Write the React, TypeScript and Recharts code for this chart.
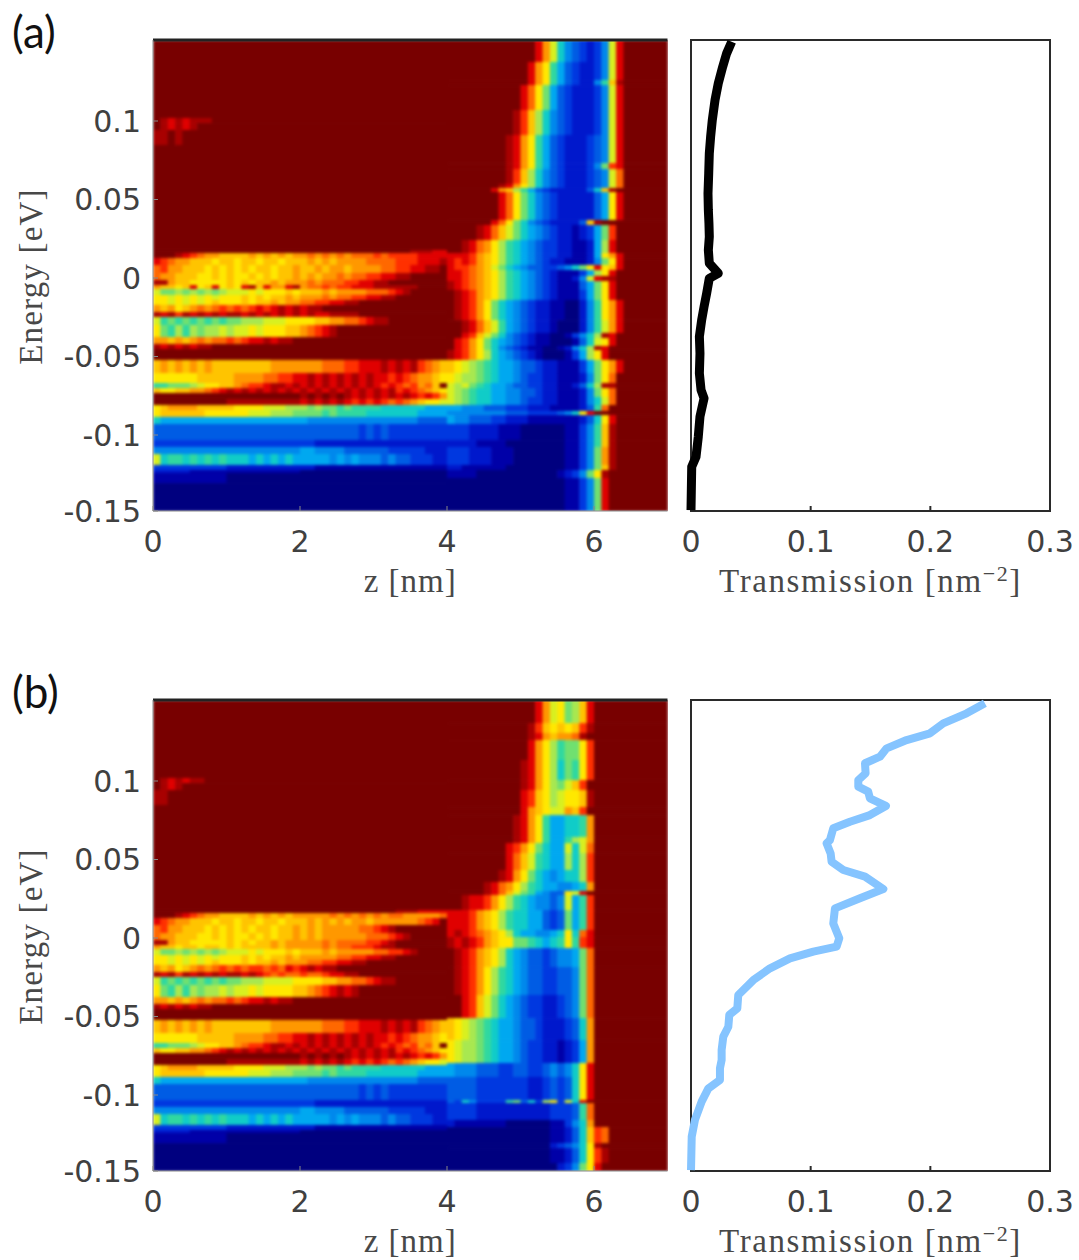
import React from 'react';
import { ScatterChart, Scatter, XAxis, YAxis, ReferenceArea, ReferenceLine, Label } from 'recharts';

// jet-like colour levels used in the band strings, a = navy ... t = dark red
const levels: Record<string, string> = {
  a: '#00007f', b: '#0000a8', c: '#0018cc', d: '#0038e0', e: '#005ce4', f: '#0088ec', g: '#00a8f0',
  h: '#10ccc8', i: '#30d8a0', j: '#70e070', k: '#a8e850', l: '#d8f020', m: '#ffe800', n: '#ffc400',
  o: '#ff9800', p: '#ff6800', q: '#ff3000', r: '#e00000', s: '#a80000', t: '#780000',
};

const zMax = 7;
const eMin = -0.1484;
const eMax = 0.1516;
const colsLeft = 40; // 0.1 nm columns, left part 0..4 nm
const colsRight = 30; // right part 4..7 nm

// [upper energy of the row, colour runs for columns 0-39]
const lowerLeft: [number, string][] = [
  [-0.0452, ''],
  [-0.0522, 'n o n o n o n o n8 o7 p3 q2 r3 s r s r s q p o n'],
  [-0.0605, 'm6 n5 o4 p2 q2 r2 s r s r s r s r s r r q r q p o o n m'],
  [-0.0669, 'i2 j3 k l m2 n2 o p q2 r s2 r s r s r s r s r s r s r q r q p q o p n'],
  [-0.0701, 'n m2 n2 o2 p q r s r s r s r s r s r s r s r s r s r s r s r s q r q p o n m'],
  [-0.0732, 't20 s t s t s t s r s r s r s r s r q r q o n'],
  [-0.0771, 't10 s10 r s r s r s r q r q r q p q p o n m m l'],
  [-0.0809, 'm n o4 n5 m4 l3 k3 j k j j i j i4 h6 g3'],
  [-0.0841, 'm n6 m6 l3 k3 j4 i j i4 h7 g4'],
  [-0.0885, 'h g20 f15 e4'],
  [-0.093, 'e28 d e d e d8'],
  [-0.1032, 'd22 c18'],
  [-0.1076, 'f20 g2 f4 e6 d5 c3'],
  [-0.1121, 'l h i2 h i h i h i h2 h g h g h g h g5 f g f g f3 e f e2 d3 c c'],
  [-0.1191, 'd10 c12 b18'],
  [-0.1223, 'c5 b15 a20'],
  [-0.1242, 'b10 a30'],
  [-0.1306, 'a40'],
];

const upperLeftA: [number, string][] = [
  [0.1516, ''],
  [0.1019, 't s r s r s3'],
  [0.0987, 't s r s r s'],
  [0.0943, 's2 t s'],
  [0.0847, ''],
  [0.0178, 't35 s3 r2'],
  [0.0159, 't3 s r q p o2 n4 o n o n o n o2 p o p o p o p3 q p q4 r4'],
  [0.0127, 'r q p o2 n3 m n2 m n2 m n2 m n3 o n o n o4 p4 q3 r3 s'],
  [0.0083, 'p q o2 n3 m n m n m n m n2 m n2 o n2 o n o2 n o4 p2 q2 r2 s2 t'],
  [0.0032, 'p o2 n3 m2 n m n m2 n m n m n2 o n o n o2 p o p2 q2 r2 s2 t5'],
  [-0.0013, 's2 o n2 m5 n m n m n2 o n o3 p o p3 q2 r2 s2'],
  [-0.0045, 'o n2 m n r m n r m n m r s n r o2 r s o p2 q p q2 r3 s6'],
  [-0.007, 'l j2 k j k j k j k l3 m l m3 n m n3 o n o4 p3 q r s'],
  [-0.0108, 'm2 l m l m l m l m3 n m n m n2 o n o3 p o p2 q2 r2 s2'],
  [-0.014, 'm2 l m l m l m n m3 n m n n o n o2 p2 q2 r2 s2'],
  [-0.0172, 'o n o m n o p o p q p q p q r q r s r s r s s'],
  [-0.0217, 's r s q s r s r s r s2 r s r s r s r s r s r2 s4'],
  [-0.0248, 'l i j i j i j i j i j2 k3 l3 m4 n2 o2 p2 q r s2'],
  [-0.0299, 'm j i k i k j k2 l k l2 m l m3 n2 o p q r s'],
  [-0.0376, 'o2 n o n o p o p2 q p q r2 s r s2'],
  [-0.042, 's r s r s r s2'],
];

const upperLeftB: [number, string][] = [
  [0.1516, ''],
  [0.1019, 't s r s r s2'],
  [0.0987, 't s r s'],
  [0.0943, 's2'],
  [0.0847, ''],
  [0.0178, 't33 s3 r4'],
  [0.0159, 't3 s r q p o2 n4 o n o n o n o5 p o p o p o p o p2 o5 p q r'],
  [0.0127, 'r q p o2 n3 m n2 m n2 m n2 m n3 o n o n o n o2 n o6 p q r'],
  [0.0083, 'p q o2 n3 m n m n m n m n2 m n2 o n o n o5 p2 q r s'],
  [0.0032, 'p o2 n3 m2 n m n m2 n m n m n2 o n o n o6 p3 q r s t2'],
  [-0.0013, 's2 o n2 m5 n m n m n2 o n o5 p o p4 q2 r s'],
  [-0.0045, 'o n2 m n2 m n2 m n m n4 o n o5 p o p2 q3 r s2'],
  [-0.007, 'l j2 k j k j k j k l3 m l m3 n m n3 o n o5 p2 q2 r s'],
  [-0.0108, 'm2 l m l m l m l m3 n m n m n2 o n o5 p2 q2 r2 s2'],
  [-0.014, 'm2 l m l m l m n m3 n m n n o n o3 p2 q2 r2 s2'],
  [-0.0172, 'o n o m n o p o p q p q p q q p q p r q r s r s s'],
  [-0.0217, 's r s q s r s r s r s2 r s r q p q p2 q p2 q r r s s'],
  [-0.0248, 'l i j i j i j i j i j2 k3 l4 m4 n2 o2 p2 q r s2'],
  [-0.0299, 'm j i k i k j k2 l k l2 m l m4 n2 o p q r s r s'],
  [-0.0376, 'o2 n o n o p o p2 q p q r2 s r s2'],
  [-0.042, 's r s r s r s2'],
];

// [upper energy of the row, colour runs for columns 40-69]
const tailA: [number, string][] = [
  [0.1516, 't12 r o l h f e d c d f l r'],
  [0.1376, 't11 r o m i g e d c2 d f l r'],
  [0.1261, 't11 r o m i g e d c2 f i n s'],
  [0.1229, 't10 r p m j g e d c3 d f l r'],
  [0.107, 't9 s q n k h f e d c3 d f l r'],
  [0.0911, 't8 s r o m i g e d c3 d e f l r'],
  [0.0732, 't8 s r o m i g e d c3 d f j q r'],
  [0.0694, 't8 s q n k h f e d c3 d e f l p'],
  [0.0599, 't7 s r o m k h f e d c3 d e f l p'],
  [0.0573, 't6 r o n k i g e d c4 c e h n s'],
  [0.0548, 't7 r p m j h f e d c4 c e g m r'],
  [0.0369, 't6 r p m j h f e d c3 c e n s'],
  [0.0338, 't4 s r p n l j h g f e d c2 b c d g j q'],
  [0.0242, 't2 s r p o m k i h g f e d2 c2 b2 c g k r'],
  [0.0159, 'r3 q o n m k i h g f e d2 c2 b2 c g m o r'],
  [0.0127, 'r q r q o n m k i h g f e d c2 b3 c f j m r'],
  [0.0083, 'r q2 p o n l j h g f e2 d2 e f h j m r m n r'],
  [0.0051, 'r2 q p o n m k i h g f e d c b3 d g k m r'],
  [0.0013, 'r2 q p o n m k i h g f e d c b2 c f l r s2'],
  [-0.0019, 's r q p o n m k i h g f e d c b3 e g j m r'],
  [-0.0076, 't s r q o n m k i h g f e d c b3 d g j m r'],
  [-0.014, 't s r q o m j h g f e d c2 b2 a2 c f i m o r'],
  [-0.0268, 't2 s r p n l i g f e d c2 b a3 c f i l o r'],
  [-0.035, 't2 r q n l j h f e d c b2 a2 b d f h k s r'],
  [-0.0382, 't r q o m j h g f e d c b2 a3 b e h l m r'],
  [-0.0433, 't r q o m j h f e d c b2 a2 b c f h k s r'],
  [-0.0459, 's r q o m k h g f e d c b a3 b d g k m r'],
  [-0.0522, 'n m l k j i h g2 f e2 d c2 b3 d g j m o r'],
  [-0.0605, 'm l k2 j i h g2 f e d2 c2 b3 c f j m p'],
  [-0.0669, 'l k l j i h g2 f e2 d2 c2 b2 c e h k s2'],
  [-0.0701, 'l k j i h2 g2 f2 e2 d c2 b3 c f j m p'],
  [-0.0758, 'l k j i h2 g2 f2 e d2 c2 b3 c f h l p'],
  [-0.0809, 'g2 f3 e3 d3 c3 b4 c e i p'],
  [-0.0847, 'f8 e3 d4 e f h m r'],
  [-0.0873, 'g f2 e3 d2 c3 b7 c e h m r'],
  [-0.093, 'd3 c4 b3 a6 b2 d f i n s'],
  [-0.1032, 'c4 b4 a8 b2 d f i n s'],
  [-0.1076, 'd3 c3 b3 a7 b2 d f j o s'],
  [-0.1191, 'c2 b6 a8 b2 d f j n s'],
  [-0.1223, 'b4 a11 b c d f j m s'],
  [-0.1274, 'a16 b2 d f j r'],
];

const tailB: [number, string][] = [
  [0.1516, 't12 r o l m j k n r'],
  [0.1369, 't11 s q n m n m n q s'],
  [0.1306, 't11 s r o n o2 p s'],
  [0.1261, 't11 r o m k i j2 m q'],
  [0.1134, 't10 s r o m k h j i m q'],
  [0.1006, 't10 s r o m k j l n q'],
  [0.0943, 't10 r q n m k l m2 n s'],
  [0.0834, 't10 r o n m l2 o n q'],
  [0.0783, 't9 s r o m i g2 h2 i o'],
  [0.0643, 't9 s r o m i g2 i k l o'],
  [0.0605, 't8 r q o m j h g2 l h l p'],
  [0.0541, 't8 r p n l i h g2 k h k q'],
  [0.0433, 't7 s r o m j h g f g h2 k q'],
  [0.0357, 't5 s r p o m k i h g2 f2 g h o'],
  [0.0299, 't5 s r p n l j i g f e2 m l r'],
  [0.0274, 't2 s r2 q o m k i h g f2 e f l g i q'],
  [0.0178, 'r3 q o n m k i h2 g2 e d e j g i q'],
  [0.0051, 'r s r q p o n m k h g2 f2 g h m h p r'],
  [0.0006, 's r s r q o n m2 j2 i h g h i m i q r'],
  [-0.0064, 't s r q o n m k h g f e2 d e f2 g j p'],
  [-0.0185, 't s r q o m k i h g f e2 d2 e2 f j p'],
  [-0.0363, 't2 r q n l j h g f e d2 c2 d e f j p'],
  [-0.051, 'n m l k j i h g2 f e2 d c3 d e h o'],
  [-0.065, 'm l k2 j i h g2 f e d2 c2 b c d g o'],
  [-0.0796, 'g f3 e3 d2 e2 d2 e f e f h m r'],
  [-0.0885, 'e4 d7 c2 d e d e h m r'],
  [-0.1032, 'e d h f d4 i j e h d k m d l h r'],
  [-0.1051, 'd4 c10 d3 e i p'],
  [-0.1159, 'c b7 a6 b2 d f h o'],
  [-0.1204, 'a14 b2 c e h n q p'],
  [-0.1306, 'a14 c d e f h m s'],
  [-0.1338, 'a14 b2 c e h m q s'],
  [-0.1433, 'a15 c d f j m r'],
];

// transmission curves
const transmissionA = [0.034, 0.0298, 0.0265, 0.0228, 0.0201, 0.0178, 0.0164, 0.0153, 0.0148, 0.0142, 0.0145, 0.015, 0.0153, 0.0145, 0.0153, 0.0228, 0.0153, 0.0131, 0.0109, 0.0089, 0.007, 0.0075, 0.007, 0.0084, 0.0109, 0.0075, 0.0061, 0.0042, 0.0006, 0];
const energyA = [0.1505, 0.1431, 0.1346, 0.124, 0.1134, 0.1006, 0.09, 0.0794, 0.0667, 0.0539, 0.0433, 0.0348, 0.0263, 0.0178, 0.0094, 0.003, -0.0002, -0.0097, -0.0183, -0.0268, -0.0374, -0.048, -0.0607, -0.0713, -0.0766, -0.0883, -0.1011, -0.1138, -0.1202, -0.1478];
const transmissionB = [0.2456, 0.2303, 0.2108, 0.1997, 0.1802, 0.1635, 0.1579, 0.1454, 0.1459, 0.1398, 0.1398, 0.1481, 0.1495, 0.1629, 0.1495, 0.1328, 0.1189, 0.1161, 0.1133, 0.1167, 0.1175, 0.1273, 0.1454, 0.1607, 0.1412, 0.1203, 0.1189, 0.1239, 0.1217, 0.1022, 0.0827, 0.066, 0.0521, 0.0395, 0.0387, 0.032, 0.0312, 0.027, 0.0256, 0.0256, 0.0242, 0.0242, 0.0145, 0.0089, 0.0033, 0.0006, 0];
const energyB = [0.1495, 0.1431, 0.1367, 0.1304, 0.1261, 0.1208, 0.1155, 0.1113, 0.1049, 0.1006, 0.0964, 0.0932, 0.089, 0.0841, 0.0783, 0.0741, 0.0699, 0.0624, 0.0603, 0.0539, 0.0486, 0.0433, 0.0391, 0.0312, 0.0253, 0.0189, 0.0093, -0.0002, -0.0055, -0.0087, -0.013, -0.0193, -0.0268, -0.0363, -0.0448, -0.049, -0.0565, -0.0628, -0.0713, -0.0777, -0.083, -0.0904, -0.0958, -0.1042, -0.1159, -0.1265, -0.1478];

const energyTicks = [-0.1484, -0.1, -0.05, 0, 0.05, 0.1];
const zTicks = [0, 2, 4, 6];
const transmissionTicks = [0, 0.1, 0.2, 0.3];
const heatCorners = [
  { z: 0, e: eMin },
  { z: zMax, e: eMax },
];

const plotHeight = 471;
const heatWidth = 514.5;
const tickStyle = { fontFamily: 'DejaVu Sans', fontSize: 30, fill: '#404040' };
const labelFont = { fontFamily: 'Liberation Serif', fontSize: 33, fill: '#484848' };

type Cell = { z: number; e: number; w: number; h: number; color: string };

function expand(runs: string, size: number) {
  let out = '';
  for (const m of runs.matchAll(/([a-t])(\d*)/g)) {
    out += m[1].repeat(m[2] ? Number(m[2]) : 1);
  }
  return out.padEnd(size, 't').slice(0, size);
}

function buildCells(rows: [number, string][], firstCol: number, size: number): Cell[] {
  const cells: Cell[] = [];
  rows.forEach(([top, runs], i) => {
    const bottom = i + 1 < rows.length ? rows[i + 1][0] : eMin;
    const line = expand(runs, size);
    let start = 0;
    for (let c = 1; c <= size; c++) {
      if (c === size || line[c] !== line[start]) {
        const w = (c - start) * 0.1;
        cells.push({
          z: (firstCol + start) * 0.1 + w / 2,
          e: (top + bottom) / 2,
          w,
          h: top - bottom,
          color: levels[line[start]],
        });
        start = c;
      }
    }
  });
  return cells;
}

const HeatCell = (props: any) => {
  const { cx, cy, payload } = props;
  const w = (payload.w * heatWidth) / zMax;
  const h = (payload.h * plotHeight) / (eMax - eMin);
  return <rect x={cx - w / 2} y={cy - h / 2} width={w + 0.6} height={h + 0.6} fill={payload.color} />;
};

const noPoint = () => <g />;

function bottomLabel(text: React.ReactNode, spacing: number) {
  return ({ viewBox }: any) => (
    <text x={viewBox.x + viewBox.width / 2} y={viewBox.y + 81} textAnchor="middle" letterSpacing={spacing} {...labelFont}>
      {text}
    </text>
  );
}

function HeatPanel({ top, rows }: { top: number; rows: Cell[] }) {
  return (
    <div style={{ position: 'absolute', left: 0, top, width: 680, height: 600 }}>
      {/* the colour map is a soft interpolated image in the original */}
      <div style={{ position: 'absolute', inset: 0, clipPath: 'inset(40px 12px 89px 153px)' }}>
        <div style={{ filter: 'blur(1.6px)' }}>
          <ScatterChart width={680} height={600} margin={{ top: 40, right: 12.5, bottom: 89, left: 153 }}>
            <XAxis type="number" dataKey="z" domain={[0, zMax]} hide />
            <YAxis type="number" dataKey="e" domain={[eMin, eMax]} hide />
            <Scatter data={rows} shape={HeatCell} isAnimationActive={false} />
          </ScatterChart>
        </div>
      </div>
      <div style={{ position: 'absolute', left: 0, top: 0 }}>
        <ScatterChart width={680} height={600} margin={{ top: 40, right: 12.5, bottom: 0, left: 0 }}>
          <XAxis
            type="number"
            dataKey="z"
            domain={[0, zMax]}
            ticks={zTicks}
            height={89}
            tick={tickStyle}
            tickSize={-5}
            tickMargin={25}
            interval={0}
            stroke="#888"
          >
            <Label content={bottomLabel('z [nm]', 1)} />
          </XAxis>
          <YAxis
            type="number"
            dataKey="e"
            domain={[eMin, eMax]}
            ticks={energyTicks}
            width={153}
            tick={tickStyle}
            tickSize={-5}
            tickMargin={17}
            interval={0}
            stroke="#888"
            tickFormatter={(v: number) => (v === eMin ? '-0.15' : String(v))}
          >
            <Label
              content={({ viewBox }: any) => (
                <text
                  transform={`translate(42 ${viewBox.y + viewBox.height / 2 + 1}) rotate(-90)`}
                  textAnchor="middle"
                  letterSpacing={1.2}
                  {...labelFont}
                >
                  Energy [eV]
                </text>
              )}
            />
          </YAxis>
          <Scatter data={heatCorners} shape={noPoint} isAnimationActive={false} />
          <ReferenceLine y={eMax} stroke="#222" strokeWidth={3} />
        </ScatterChart>
      </div>
    </div>
  );
}

function CurvePanel({ top, x, e, color, width }: { top: number; x: number[]; e: number[]; color: string; width: number }) {
  const points = x.map((t, i) => ({ t, e: e[i] }));
  return (
    <div style={{ position: 'absolute', left: 660, top }}>
      <ScatterChart width={419} height={600} margin={{ top: 40, right: 29, bottom: 0, left: 31 }}>
        <XAxis
          type="number"
          dataKey="t"
          domain={[0, 0.3]}
          ticks={transmissionTicks}
          height={89}
          tick={tickStyle}
          tickSize={-5}
          tickMargin={25}
          interval={0}
          stroke="#2a2a2a"
          strokeWidth={2}
        >
          <Label
            content={bottomLabel(
              <>
                Transmission [nm
                <tspan dy={-11} fontSize={22}>
                  −2
                </tspan>
                <tspan dy={11}>]</tspan>
              </>,
              1.6,
            )}
          />
        </XAxis>
        <XAxis
          xAxisId="top"
          orientation="top"
          type="number"
          domain={[0, 0.3]}
          ticks={transmissionTicks}
          height={0}
          tick={false}
          tickSize={-5}
          stroke="#2a2a2a"
          strokeWidth={2}
        />
        <YAxis type="number" dataKey="e" domain={[eMin, eMax]} hide />
        <ReferenceArea x1={0} x2={0.3} y1={eMin} y2={eMax} fill="none" stroke="#2a2a2a" strokeWidth={2} />
        <Scatter
          data={points}
          line={{ stroke: color, strokeWidth: width, strokeLinejoin: 'round', strokeLinecap: 'butt' }}
          lineType="joint"
          shape={noPoint}
          isAnimationActive={false}
        />
      </ScatterChart>
    </div>
  );
}

const panelTag = (text: string, top: number) => (
  <div style={{ position: 'absolute', left: 12, top, fontFamily: 'Lato', fontSize: 44, color: '#111', lineHeight: '44px' }}>
    {text}
  </div>
);

export default function App() {
  const cellsA = [...buildCells([...upperLeftA, ...lowerLeft], 0, colsLeft), ...buildCells(tailA, colsLeft, colsRight)];
  const cellsB = [...buildCells([...upperLeftB, ...lowerLeft], 0, colsLeft), ...buildCells(tailB, colsLeft, colsRight)];
  return (
    <div style={{ position: 'absolute', left: 0, top: 0, width: 1079, height: 1260, background: '#fff', overflow: 'hidden' }}>
      {panelTag('(a)', 9)}
      {panelTag('(b)', 669)}
      <HeatPanel top={0} rows={cellsA} />
      <CurvePanel top={0} x={transmissionA} e={energyA} color="#000" width={9} />
      <HeatPanel top={660} rows={cellsB} />
      <CurvePanel top={660} x={transmissionB} e={energyB} color="#85c4ff" width={8} />
    </div>
  );
}
